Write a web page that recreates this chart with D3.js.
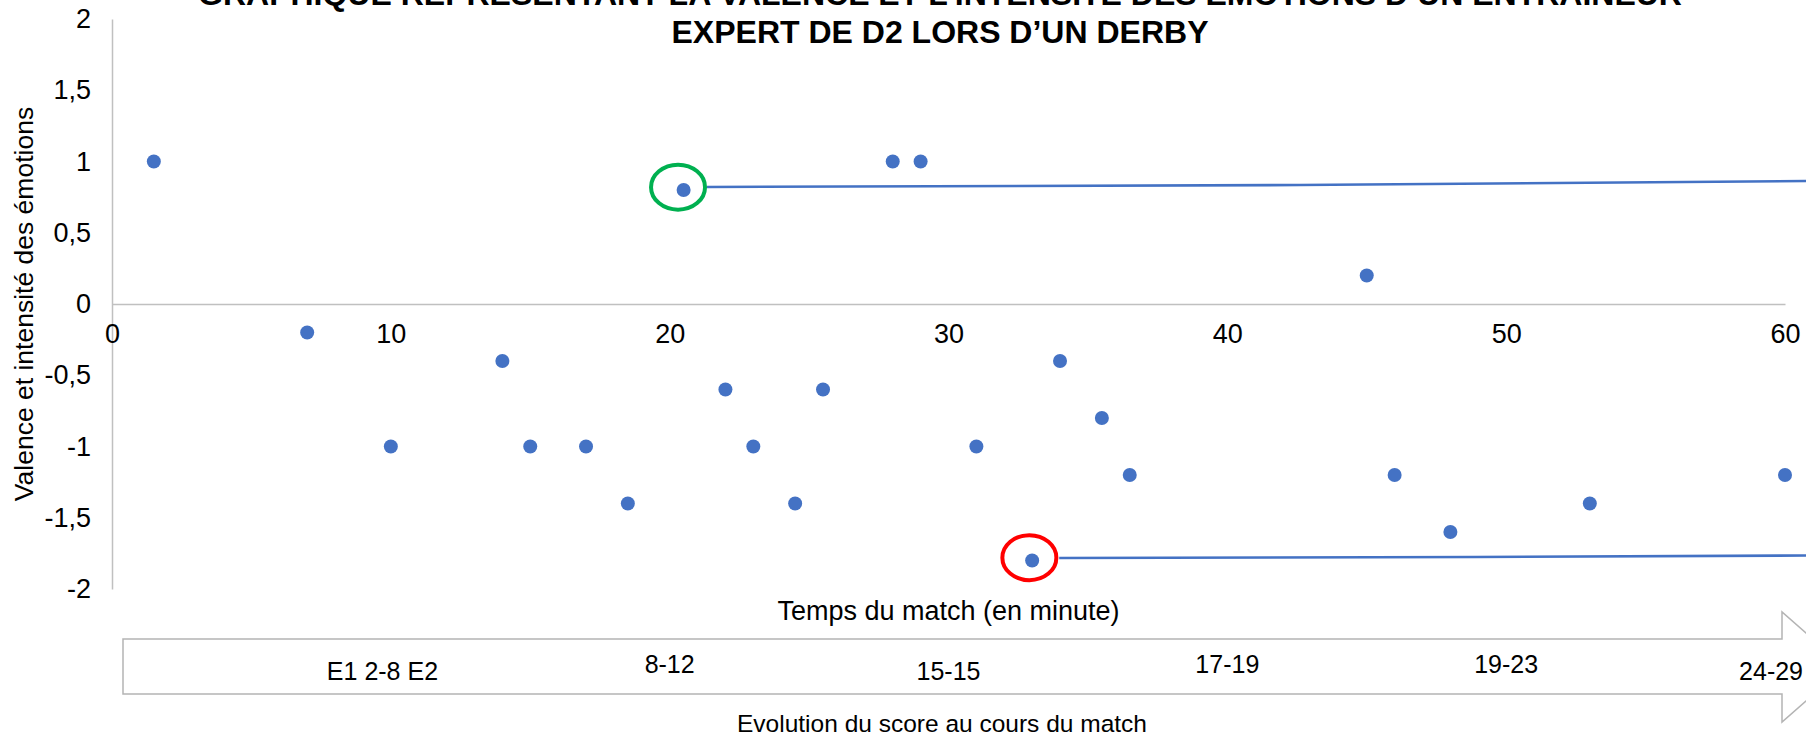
<!DOCTYPE html>
<html>
<head>
<meta charset="utf-8">
<script src="https://cdn.jsdelivr.net/npm/d3@7"></script>
<style>
  body { margin: 0; background: #fff; }
  svg { display: block; }
</style>
</head>
<body>
<svg id="chart" width="1806" height="738"></svg>
<script>
// minutes of the match and the emotion score read on the chart
var minutes = [1.5, 7, 10, 14, 15, 17, 18.5, 20.5, 22, 23, 24.5, 25.5, 28, 29, 31, 33, 34, 35.5, 36.5, 45, 46, 48, 53, 60];
var valence = [1, -0.2, -1, -0.4, -1, -1, -1.4, 0.8, -0.6, -1, -1.4, -0.6, 1, 1, -1, -1.8, -0.4, -0.8, -1.2, 0.2, -1.2, -1.6, -1.4, -1.2];

var xTicks = [0, 10, 20, 30, 40, 50, 60];
var yTicks = [2, 1.5, 1, 0.5, 0, -0.5, -1, -1.5, -2];

var titleLines = ["GRAPHIQUE REPRESENTANT LA VALENCE ET L\u2019INTENSITE DES EMOTIONS D\u2019UN ENTRAINEUR",
                  "EXPERT DE D2 LORS D\u2019UN DERBY"];

// score along the match (bottom arrow)
var scoreLabels = ["E1 2-8 E2", "8-12", "15-15", "17-19", "19-23", "24-29"];
var scoreMinutes = [9.7, 20, 30, 40, 50, 59.5];
var scoreRow = [0, 1, 0, 1, 1, 0];

// highlighted moments (circle centre in data units) and the lines leaving them
var highlightMinutes = [20.3, 32.9];
var highlightValence = [0.82, -1.78];
var highlightColors = ["#00B050", "#FF0000"];
var greenLineX = [21.34, 42.6, 60.8];
var greenLineY = [0.821, 0.835, 0.863];
var redLineX = [33.97, 48.9, 60.8];
var redLineY = [-1.782, -1.775, -1.765];

var svg = d3.select("#chart"),
    width = +svg.attr("width"),
    height = +svg.attr("height");

var font = "'Liberation Sans', Arial, sans-serif";
var blue = "#4472C4";

var x = d3.scaleLinear().domain([0, 60]).range([112, 1785]);
var y = d3.scaleLinear().domain([-2, 2]).range([589, 19]);

var fr = d3.formatLocale({ decimal: ",", thousands: " ", grouping: [3], currency: ["", "€"], minus: "-" });
var fmt = fr.format("~g");

// title (first line is cut by the top edge, as in the picture)
svg.append("g").selectAll("text")
    .data(titleLines)
    .enter()
    .append("text")
    .attr("x", 940)
    .attr("y", function (d, i) { return 5 + i * 38; })
    .attr("text-anchor", "middle")
    .style("font-family", font)
    .style("font-weight", "bold")
    .style("font-size", "32px")
    .style("fill", "#000")
    .text(function (d) { return d; });

// y axis
var yAxis = svg.append("g")
    .attr("transform", "translate(" + x(0) + ",0)")
    .call(d3.axisLeft(y).tickValues(yTicks).tickSize(0).tickPadding(21).tickFormat(fmt));
yAxis.select(".domain").attr("stroke", "#c0c0c0").attr("stroke-width", 1.5);
yAxis.selectAll("text").style("font-family", font).style("font-size", "27px").attr("fill", "#000");

// x axis crossing at 0
var xAxis = svg.append("g")
    .attr("transform", "translate(0," + y(0) + ")")
    .call(d3.axisBottom(x).tickValues(xTicks).tickSize(0).tickPadding(19.5).tickFormat(fmt));
xAxis.select(".domain").attr("stroke", "#c0c0c0").attr("stroke-width", 1.5);
xAxis.selectAll("text").style("font-family", font).style("font-size", "27px").attr("fill", "#000");

// axis titles
svg.append("text")
    .attr("transform", "translate(26," + (y(0)) + ") rotate(-90)")
    .attr("text-anchor", "middle")
    .attr("dominant-baseline", "middle")
    .style("font-family", font)
    .style("font-size", "26.5px")
    .text("Valence et intensit\u00e9 des \u00e9motions");

svg.append("text")
    .attr("x", (x(0) + x(60)) / 2)
    .attr("y", 620)
    .attr("text-anchor", "middle")
    .style("font-family", font)
    .style("font-size", "27px")
    .text("Temps du match (en minute)");

// annotation lines
var line = d3.line()
    .x(function (d) { return x(d[0]); })
    .y(function (d) { return y(d[1]); });

svg.append("path")
    .attr("d", line(d3.zip(greenLineX, greenLineY)))
    .attr("fill", "none")
    .attr("stroke", blue)
    .attr("stroke-width", 2.6);
svg.append("path")
    .attr("d", line(d3.zip(redLineX, redLineY)))
    .attr("fill", "none")
    .attr("stroke", blue)
    .attr("stroke-width", 2.6);

// points
svg.append("g").selectAll("circle")
    .data(d3.zip(minutes, valence))
    .enter()
    .append("circle")
    .attr("cx", function (d) { return x(d[0]); })
    .attr("cy", function (d) { return y(d[1]); })
    .attr("r", 7)
    .attr("fill", blue);

// highlight ellipses
svg.append("g").selectAll("ellipse")
    .data(d3.zip(highlightMinutes, highlightValence, highlightColors))
    .enter()
    .append("ellipse")
    .attr("cx", function (d) { return x(d[0]); })
    .attr("cy", function (d) { return y(d[1]); })
    .attr("rx", 27)
    .attr("ry", 22.5)
    .attr("fill", "none")
    .attr("stroke", function (d) { return d[2]; })
    .attr("stroke-width", 4);

// score arrow
var arrow = svg.append("g");
arrow.append("path")
    .attr("d", "M123,639 L1782,639 L1782,612 L1845,667 L1782,722 L1782,694 L123,694 Z")
    .attr("fill", "#fff")
    .attr("stroke", "#b4b4b4")
    .attr("stroke-width", 1.5);

arrow.selectAll("text.score")
    .data(d3.zip(scoreLabels, scoreMinutes, scoreRow))
    .enter()
    .append("text")
    .attr("class", "score")
    .attr("x", function (d) { return x(d[1]); })
    .attr("y", function (d) { return 680 - d[2] * 7; })
    .attr("text-anchor", "middle")
    .style("font-family", font)
    .style("font-size", "25px")
    .text(function (d) { return d[0]; });

svg.append("text")
    .attr("x", 942)
    .attr("y", 732)
    .attr("text-anchor", "middle")
    .style("font-family", font)
    .style("font-size", "24.5px")
    .text("Evolution du score au cours du match");
</script>
</body>
</html>
